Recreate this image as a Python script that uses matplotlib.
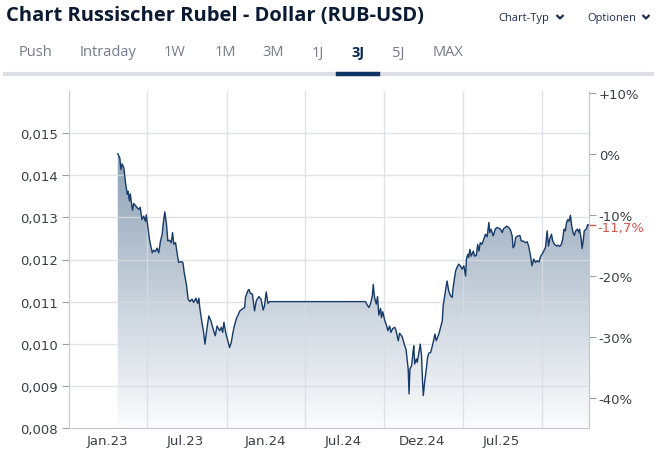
import numpy as np
import matplotlib
matplotlib.use("Agg")
import matplotlib.pyplot as plt
import matplotlib.dates as mdates
from matplotlib.lines import Line2D
from matplotlib.patches import Polygon

# days after 2023-01-01, RUB-USD close
days = [24, 29, 31, 34, 38, 42, 46, 48, 51, 53, 58, 61, 69, 73, 76, 80, 84, 88, 90, 93,
        98, 104, 107, 111, 115, 119, 123, 127, 129, 133, 137, 140, 144, 148, 151, 154, 158, 162, 165, 171,
        175, 178, 183, 187, 191, 196, 200, 205, 209, 212, 214, 219, 223, 226, 231, 235, 240, 245, 250, 254,
        260, 264, 267, 270, 274, 279, 283, 287, 291, 294, 299, 307, 312, 318, 320, 325, 328, 331, 336, 341,
        345, 351, 356, 361, 364, 368, 372, 376, 598, 602, 606, 610, 614, 616, 619, 623, 626, 629, 633, 635,
        638, 643, 646, 650, 654, 657, 661, 666, 669, 674, 677, 683, 689, 692, 695, 697, 699, 701, 705, 708,
        710, 712, 716, 718, 721, 725, 728, 730, 732, 735, 739, 742, 745, 749, 754, 759, 762, 768, 772, 776,
        778, 783, 787, 791, 795, 799, 801, 807, 810, 814, 818, 822, 826, 830, 832, 835, 837, 840, 843, 848,
        851, 855, 858, 861, 864, 868, 872, 876, 880, 884, 886, 889, 894, 899, 903, 911, 915, 918, 925, 930,
        934, 938, 940, 943, 946, 951, 956, 959, 963, 969, 973, 976, 980, 984, 988, 992, 996, 1000, 1004, 1007,
        1011, 1015, 1019, 1022, 1025, 1029, 1032, 1036, 1041, 1044, 1048, 1052, 1055, 1058, 1061, 1064, 1067, 1070, 1073, 1076,
        1079, 1082, 1085, 1089, 1092, 1094, 1098, 1100, 1103, 1105, 1110, 1113, 1116]
rate = [0.01451, 0.01440, 0.01414, 0.01427, 0.01418, 0.01382, 0.01355, 0.01362, 0.01339, 0.01356,
        0.01317, 0.01333, 0.01323, 0.01319, 0.01324, 0.01295, 0.01303, 0.01291, 0.01306, 0.01283,
        0.01244, 0.01216, 0.01222, 0.01219, 0.01227, 0.01216, 0.01244, 0.01260, 0.01283, 0.01313,
        0.01283, 0.01244, 0.01246, 0.01240, 0.01264, 0.01236, 0.01240, 0.01212, 0.01193, 0.01195,
        0.01193, 0.01169, 0.01141, 0.01106, 0.01100, 0.01106, 0.01098, 0.01108, 0.01096, 0.01108,
        0.01086, 0.01051, 0.01027, 0.00999, 0.01039, 0.01066, 0.01054, 0.01035, 0.01019, 0.01042,
        0.01031, 0.01039, 0.01027, 0.01051, 0.01027, 0.01007, 0.00991, 0.01003, 0.01027, 0.01042,
        0.01060, 0.01078, 0.01082, 0.01086, 0.01110, 0.01125, 0.01129, 0.01120, 0.01118, 0.01078,
        0.01102, 0.01112, 0.01106, 0.01080, 0.01090, 0.01123, 0.01096, 0.01100, 0.01100, 0.01092,
        0.01086, 0.01096, 0.01114, 0.01141, 0.01110, 0.01094, 0.01112, 0.01068, 0.01084, 0.01062,
        0.01076, 0.01054, 0.01046, 0.01031, 0.01042, 0.01027, 0.01036, 0.01039, 0.01031, 0.01007,
        0.01025, 0.01017, 0.00995, 0.00987, 0.00960, 0.00940, 0.00881, 0.00940, 0.00948, 0.00979,
        0.00995, 0.00952, 0.00964, 0.00956, 0.00975, 0.00999, 0.00971, 0.00916, 0.00877, 0.00908,
        0.00940, 0.00968, 0.00978, 0.00979, 0.00999, 0.01023, 0.01007, 0.01023, 0.01039, 0.01054,
        0.01090, 0.01122, 0.01149, 0.01125, 0.01114, 0.01110, 0.01133, 0.01173, 0.01181, 0.01189,
        0.01185, 0.01177, 0.01185, 0.01161, 0.01201, 0.01212, 0.01205, 0.01224, 0.01208, 0.01220,
        0.01208, 0.01210, 0.01236, 0.01220, 0.01240, 0.01236, 0.01248, 0.01260, 0.01254, 0.01288,
        0.01264, 0.01272, 0.01256, 0.01273, 0.01276, 0.01272, 0.01264, 0.01273, 0.01279, 0.01276,
        0.01270, 0.01256, 0.01228, 0.01232, 0.01252, 0.01256, 0.01257, 0.01244, 0.01244, 0.01240,
        0.01242, 0.01232, 0.01212, 0.01185, 0.01201, 0.01193, 0.01197, 0.01194, 0.01208, 0.01212,
        0.01220, 0.01228, 0.01268, 0.01232, 0.01248, 0.01260, 0.01244, 0.01236, 0.01232, 0.01234,
        0.01231, 0.01236, 0.01248, 0.01272, 0.01268, 0.01288, 0.01295, 0.01291, 0.01305, 0.01279,
        0.01264, 0.01257, 0.01268, 0.01272, 0.01265, 0.01272, 0.01248, 0.01226, 0.01248, 0.01268,
        0.01273, 0.01283, 0.01281]

tabs = ["Push", "Intraday", "1W", "1M", "3M", "1J", "3J", "5J", "MAX"]
tab_x = [35, 108, 175, 225, 273, 318, 358, 398, 448]
xlabels = ["Jan.23", "Jul.23", "Jan.24", "Jul.24", "Dez.24", "Jul.25"]
xlabel_dates = ["2023-01-01", "2023-07-01", "2024-01-01", "2024-07-01", "2024-12-31", "2025-07-01"]
grid_dates = ["2023-04-03", "2023-10-05", "2024-04-02", "2024-10-02", "2025-04-03", "2025-10-05"]
yticks = [0.008, 0.009, 0.010, 0.011, 0.012, 0.013, 0.014, 0.015]
pct_ticks = [-40, -30, -20, -10, 0, 10]

dates = np.datetime64("2023-01-01") + np.array(days).astype("timedelta64[D]")
x = mdates.date2num(dates)
rate = np.array(rate)
base = rate[0]

W, H = 656, 452
fig = plt.figure(figsize=(W / 100, H / 100), dpi=100)
fig.patch.set_facecolor("white")

def fx(px):
    return px / W

def fy(py):
    return 1 - py / H

# header
fig.text(fx(6), fy(16), "Chart Russischer Rubel - Dollar (RUB-USD)", fontsize=14.5,
         fontweight="bold", family="Open Sans", color="#0b1a33", va="center", ha="left")
for lbl, px0, px1 in [("Chart-Typ", 498, 555), ("Optionen", 587, 641)]:
    fig.text(fx(px0), fy(18), lbl, fontsize=8, family="Open Sans", color="#1b2d4f",
             va="center", ha="left")
    cx = px1 + 5
    fig.add_artist(Line2D([fx(cx - 3.5), fx(cx), fx(cx + 3.5)], [fy(16), fy(19.5), fy(16)],
                          color="#1b2d4f", lw=1.6, solid_capstyle="butt"))
for t, px in zip(tabs, tab_x):
    sel = t == "3J"
    fig.text(fx(px), fy(53), t, fontsize=10.5, family="Open Sans",
             fontweight="bold" if sel else "normal",
             color="#0b2a55" if sel else "#737b88", ha="center", va="center")
fig.add_artist(Line2D([fx(5), fx(652)], [fy(75), fy(75)], color="#dcdfe3", lw=3))
fig.add_artist(Line2D([fx(338), fx(378)], [fy(75), fy(75)], color="#0e3461", lw=3.2))

# chart
ax = fig.add_axes([fx(69), fy(429), fx(589) - fx(69), fy(92) - fy(429)])
x0 = mdates.date2num(np.datetime64("2022-10-04"))
x1 = mdates.date2num(np.datetime64("2026-01-21"))
ax.set_xlim(x0, x1)
ax.set_ylim(0.008, 0.016)

# gradient fill under the line
grad = np.linspace(0, 1, 256)[:, None]
top = np.array([0.46, 0.55, 0.65])
bot = np.array([0.985, 0.988, 0.992])
img = top[None, None, :] * (1 - grad[:, :, None]) + bot[None, None, :] * grad[:, :, None]
im = ax.imshow(img, extent=[x0, x1, 0.008, 0.016], origin="upper", aspect="auto", zorder=1)
poly = Polygon(np.column_stack([np.r_[x[0], x, x[-1]], np.r_[0.008, rate, 0.008]]),
               closed=True, facecolor="none", edgecolor="none")
ax.add_patch(poly)
im.set_clip_path(poly)

for yv in yticks[1:]:
    ax.axhline(yv, color="#d9dce1", lw=1, zorder=2, alpha=0.8)
for gd in grid_dates:
    ax.axvline(mdates.date2num(np.datetime64(gd)), color="#d9dce1", lw=1, zorder=2, alpha=0.8)

ax.plot(x, rate, color="#163a6a", lw=1.0, zorder=3)

ax.set_yticks(yticks)
ax.set_yticklabels([f"{v:.3f}".replace(".", ",") for v in yticks])
ax.set_xticks(mdates.date2num(np.array(xlabel_dates, dtype="datetime64[D]")))
ax.set_xticklabels(xlabels)
ax.tick_params(axis="y", length=5, color="#9aa0a8", labelsize=9.5, labelcolor="#3a3f47", pad=3)
ax.tick_params(axis="x", length=0, labelsize=9.5, labelcolor="#3a3f47", pad=4)
for s in ["left", "bottom", "right"]:
    ax.spines[s].set_color("#c4c8ce")
ax.spines["top"].set_visible(False)

# percent axis relative to first close
ax2 = ax.twinx()
ax2.set_ylim(0.008 / base * 100 - 100, 0.016 / base * 100 - 100)
ax2.set_yticks(pct_ticks)
ax2.set_yticklabels([("+" if p > 0 else "") + f"{p}%" for p in pct_ticks])
ax2.tick_params(axis="y", length=5, color="#9aa0a8", labelsize=9.5, labelcolor="#3a3f47", pad=2)
for s in ["left", "bottom", "top"]:
    ax2.spines[s].set_visible(False)
ax2.spines["right"].set_color("#c4c8ce")

last_pct = (rate[-1] / base - 1) * 100
ax2.plot([1.0, 1.012], [last_pct, last_pct], color="#d9534f", lw=1, transform=ax2.get_yaxis_transform(),
         clip_on=False)
ax2.text(1.016, last_pct - 0.3, f"{last_pct:.1f}%".replace(".", ","), transform=ax2.get_yaxis_transform(),
         color="#d9534f", fontsize=9.5, va="center", ha="left")

fig.savefig("out.png", dpi=100)
